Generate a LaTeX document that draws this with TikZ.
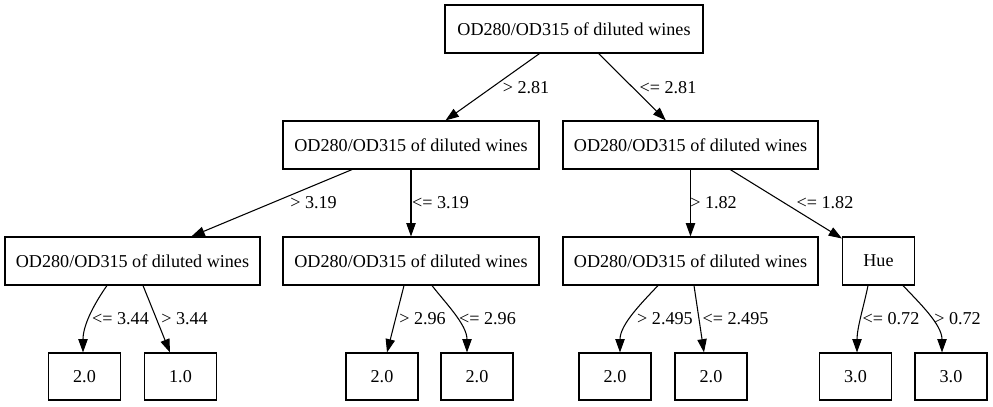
\documentclass[tikz,border=0pt]{standalone}
\usepackage{fontspec}
\setmainfont{Liberation Serif}
\newfontfamily\tms{Liberation Serif}
\usetikzlibrary{arrows.meta,calc}
\begin{document}
\begin{tikzpicture}[x=0.75pt,y=-0.75pt,
  box/.style={draw, line width=0.8pt, rectangle, minimum height=36pt, inner sep=0pt, font=\tms\fontsize{13.6}{16}\selectfont},
  leaf/.style={box, minimum width=54pt, minimum height=35.25pt},
  lbl/.style={anchor=base, inner sep=0pt, font=\tms\fontsize{13.6}{16}\selectfont},
  edge/.style={-{Triangle[length=10pt,width=7pt]}, line width=0.8pt}]
\useasboundingbox (0,0) rectangle (993,407);
% decision nodes
\node[box, minimum width=193.5pt] (root) at (574,29) {OD280/OD315 of diluted wines};
\node[box, minimum width=192pt] (ll) at (411,145) {OD280/OD315 of diluted wines};
\node[box, minimum width=191.25pt] (lr) at (690.5,145) {OD280/OD315 of diluted wines};
\node[box, minimum width=191.25pt] (a) at (132.5,261) {OD280/OD315 of diluted wines};
\node[box, minimum width=192pt] (b) at (411,261) {OD280/OD315 of diluted wines};
\node[box, minimum width=191.25pt] (c) at (690.5,261) {OD280/OD315 of diluted wines};
\node[box, minimum width=54pt] (hue) at (878.5,261) {Hue};
% leaves
\node[leaf] (l1) at (84.5,376.5) {2.0};
\node[leaf] (l2) at (180.5,376.5) {1.0};
\node[leaf] (l3) at (382,376.5) {2.0};
\node[leaf] (l4) at (477,376.5) {2.0};
\node[leaf] (l5) at (615,376.5) {2.0};
\node[leaf] (l6) at (711,376.5) {2.0};
\node[leaf] (l7) at (855.5,376.5) {3.0};
\node[leaf] (l8) at (951,376.5) {3.0};
% edges
\draw[edge] (root) -- (ll);
\draw[edge] (root) -- (lr);
\draw[edge] (ll) -- (a);
\draw[edge] (ll) -- (b);
\draw[edge] (lr) -- (c);
\draw[edge] (lr) -- (hue);
\draw[edge] ($(a.south)+(-25.5,0)$) .. controls +(-12,17) and +(0,-28) .. ($(l1.north)+(-1.5,0)$);
\draw[edge] ($(a.south)+(10.5,0)$) -- ($(l2.north)+(-10.5,0)$);
\draw[edge] ($(b.south)+(-7,0)$) -- ($(l3.north)+(5,0)$);
\draw[edge] ($(b.south)+(21,0)$) .. controls +(13,17) and +(0,-28) .. ($(l4.north)+(-10,0)$);
\draw[edge] ($(c.south)+(-32.5,0)$) .. controls +(-16,17) and +(0,-28) .. ($(l5.north)+(5,0)$);
\draw[edge] ($(c.south)+(3.5,0)$) -- ($(l6.north)+(-7,0)$);
\draw[edge] ($(hue.south)+(-10.5,0)$) .. controls +(-4,20) and +(0,-25) .. ($(l7.north)+(1.5,0)$);
\draw[edge] ($(hue.south)+(24.5,0)$) .. controls +(16,17) and +(0,-28) .. ($(l8.north)+(-9,0)$);
% labels
\node[lbl] (t1) at (526,93) {> 2.81};
\node[lbl] (t2) at (668,93) {<= 2.81};
\node[lbl] (t3) at (313.5,208) {> 3.19};
\node[lbl] (t4) at (440.5,208) {<= 3.19};
\node[lbl] (t5) at (713.5,208) {> 1.82};
\node[lbl] (t6) at (825,208) {<= 1.82};
\node[lbl] (t7) at (120.5,324) {<= 3.44};
\node[lbl] (t8) at (184.5,324) {> 3.44};
\node[lbl] (t9) at (422.5,324) {> 2.96};
\node[lbl] (t10) at (487.5,324) {<= 2.96};
\node[lbl] (t11) at (665,324) {> 2.495};
\node[lbl] (t12) at (735.5,324) {<= 2.495};
\node[lbl] (t13) at (891,324) {<= 0.72};
\node[lbl] (t14) at (957.5,324) {> 0.72};
\end{tikzpicture}
\end{document}
